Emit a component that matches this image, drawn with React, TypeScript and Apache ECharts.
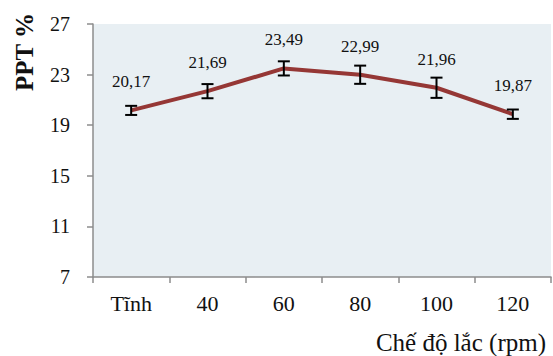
import React, { useEffect, useRef } from "react";
import * as echarts from "echarts";

const categories = ["Tĩnh", "40", "60", "80", "100", "120"];
const values = [20.17, 21.69, 23.49, 22.99, 21.96, 19.87];
const errors = [0.36, 0.56, 0.56, 0.72, 0.8, 0.37];
const yTicks = [7, 11, 15, 19, 23, 27];
const yName = "PPT %";
const xName = "Chế độ lắc (rpm)";

const FONT = "'Liberation Serif', 'Times New Roman', serif";

export default function App() {
  const ref = useRef<HTMLDivElement>(null);
  useEffect(() => {
    if (!ref.current) return;
    const chart = echarts.init(ref.current, null, { renderer: "svg" });
    const errData = values.map((v, i) => [i, v - errors[i], v + errors[i]]);
    chart.setOption({
      animation: false,
      grid: { left: 93, right: 2, top: 24, bottom: 79, show: true, backgroundColor: "#E8EFF3", borderWidth: 0 },
      xAxis: {
        type: "category",
        data: categories,
        boundaryGap: true,
        axisLine: { show: true, lineStyle: { color: "#8c8c8c", width: 1.5 } },
        axisTick: { show: true, alignWithLabel: false, length: 6, lineStyle: { color: "#8c8c8c", width: 1.5 } },
        axisLabel: { color: "#111", fontFamily: FONT, fontSize: 22, margin: 15 },
        splitLine: { show: false },
      },
      yAxis: {
        type: "value",
        min: 7,
        max: 27,
        axisLine: { show: true, lineStyle: { color: "#8c8c8c", width: 1.5 } },
        axisTick: { show: true, length: 6, customValues: yTicks, lineStyle: { color: "#8c8c8c", width: 1.5 } },
        axisLabel: { color: "#111", fontFamily: FONT, fontSize: 20, margin: 23, customValues: yTicks },
        splitLine: { show: false },
      },
      graphic: [
        {
          type: "text",
          x: 24,
          y: 52,
          rotation: Math.PI / 2,
          style: {
            text: yName,
            fontFamily: FONT,
            fontSize: 25,
            fontWeight: "bold",
            fill: "#111",
            align: "center",
            verticalAlign: "middle",
          },
        },
        {
          type: "text",
          x: 546,
          y: 342,
          style: {
            text: xName,
            fontFamily: FONT,
            fontSize: 25,
            fill: "#111",
            align: "right",
            verticalAlign: "middle",
          },
        },
      ],
      series: [
        {
          type: "line",
          data: values,
          symbol: "circle",
          symbolSize: 2,
          showSymbol: true,
          itemStyle: { color: "rgba(0,0,0,0)", borderWidth: 0 },
          lineStyle: { color: "#953735", width: 4 },
          label: {
            show: true,
            position: "top",
            distance: 19,
            formatter: (p: any) => Number(p.value).toFixed(2).replace(".", ","),
            fontFamily: FONT,
            fontSize: 17,
            color: "#111",
          },
          z: 2,
        },
        {
          type: "custom",
          data: errData,
          z: 3,
          renderItem: (params: any, api: any) => {
            const x = api.value(0);
            const lo = api.coord([x, api.value(1)]);
            const hi = api.coord([x, api.value(2)]);
            const w = 6;
            const style = { stroke: "#000", lineWidth: 2 };
            return {
              type: "group",
              children: [
                { type: "line", shape: { x1: lo[0], y1: lo[1], x2: hi[0], y2: hi[1] }, style },
                { type: "line", shape: { x1: lo[0] - w, y1: lo[1], x2: lo[0] + w, y2: lo[1] }, style },
                { type: "line", shape: { x1: hi[0] - w, y1: hi[1], x2: hi[0] + w, y2: hi[1] }, style },
              ],
            };
          },
        },
      ],
    });
    return () => chart.dispose();
  }, []);
  return <div ref={ref} style={{ width: 553, height: 356, position: "absolute", left: 0, top: 0 }} />;
}
